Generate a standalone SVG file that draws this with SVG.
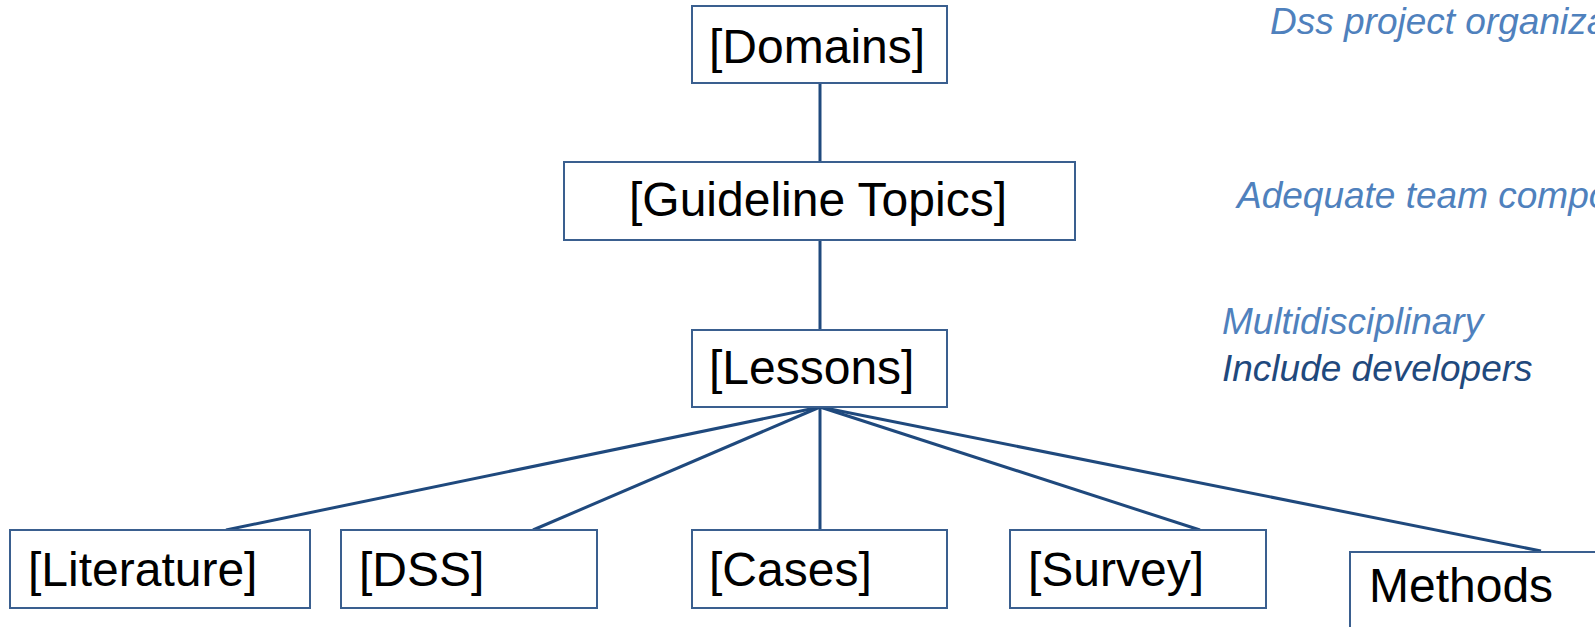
<svg xmlns="http://www.w3.org/2000/svg" width="1595" height="627" viewBox="0 0 1595 627">
<style>
.box{fill:#fff;stroke:#3A5F8F;stroke-width:2}
.lbl{font-family:"Liberation Sans",Arial,sans-serif;font-size:48px;fill:#000}
.note{font-family:"Liberation Sans",Arial,sans-serif;font-size:37px;font-style:italic}
.light{fill:#4F81BD}
.dark{fill:#1F497D}
.conn{stroke:#1F497D;stroke-width:3;fill:none}
</style>
<rect width="1595" height="627" fill="#fff"/>
<g id="connectors">
<line class="conn" x1="820" y1="83" x2="820" y2="162"/>
<line class="conn" x1="820" y1="240" x2="820" y2="330"/>
<line class="conn" x1="820" y1="407" x2="226" y2="530"/>
<line class="conn" x1="820" y1="407" x2="533" y2="530"/>
<line class="conn" x1="820" y1="407" x2="820" y2="530"/>
<line class="conn" x1="820" y1="407" x2="1200" y2="530"/>
<line class="conn" x1="820" y1="407" x2="1541" y2="551"/>
</g>
<g id="domains"><rect class="box" x="692" y="6" width="255" height="77"/><text class="lbl" x="709" y="63">[Domains]</text></g>
<g id="guideline-topics"><rect class="box" x="564" y="162" width="511" height="78"/><text class="lbl" x="629" y="216">[Guideline Topics]</text></g>
<g id="lessons"><rect class="box" x="692" y="330" width="255" height="77"/><text class="lbl" x="709" y="384">[Lessons]</text></g>
<g id="literature"><rect class="box" x="10" y="530" width="300" height="78"/><text class="lbl" x="28" y="586">[Literature]</text></g>
<g id="dss"><rect class="box" x="341" y="530" width="256" height="78"/><text class="lbl" x="359" y="586">[DSS]</text></g>
<g id="cases"><rect class="box" x="692" y="530" width="255" height="78"/><text class="lbl" x="709" y="586">[Cases]</text></g>
<g id="survey"><rect class="box" x="1010" y="530" width="256" height="78"/><text class="lbl" x="1028" y="586">[Survey]</text></g>
<g id="methods"><rect class="box" x="1350" y="552" width="260" height="90"/><text class="lbl" x="1369" y="602">Methods</text></g>
<g id="notes">
<text class="note light" x="1270" y="34">Dss project organiza</text>
<text class="note light" x="1237" y="208">Adequate team compo</text>
<text class="note light" x="1222" y="334">Multidisciplinary</text>
<text class="note dark" x="1222" y="381">Include developers</text>
</g>
</svg>
